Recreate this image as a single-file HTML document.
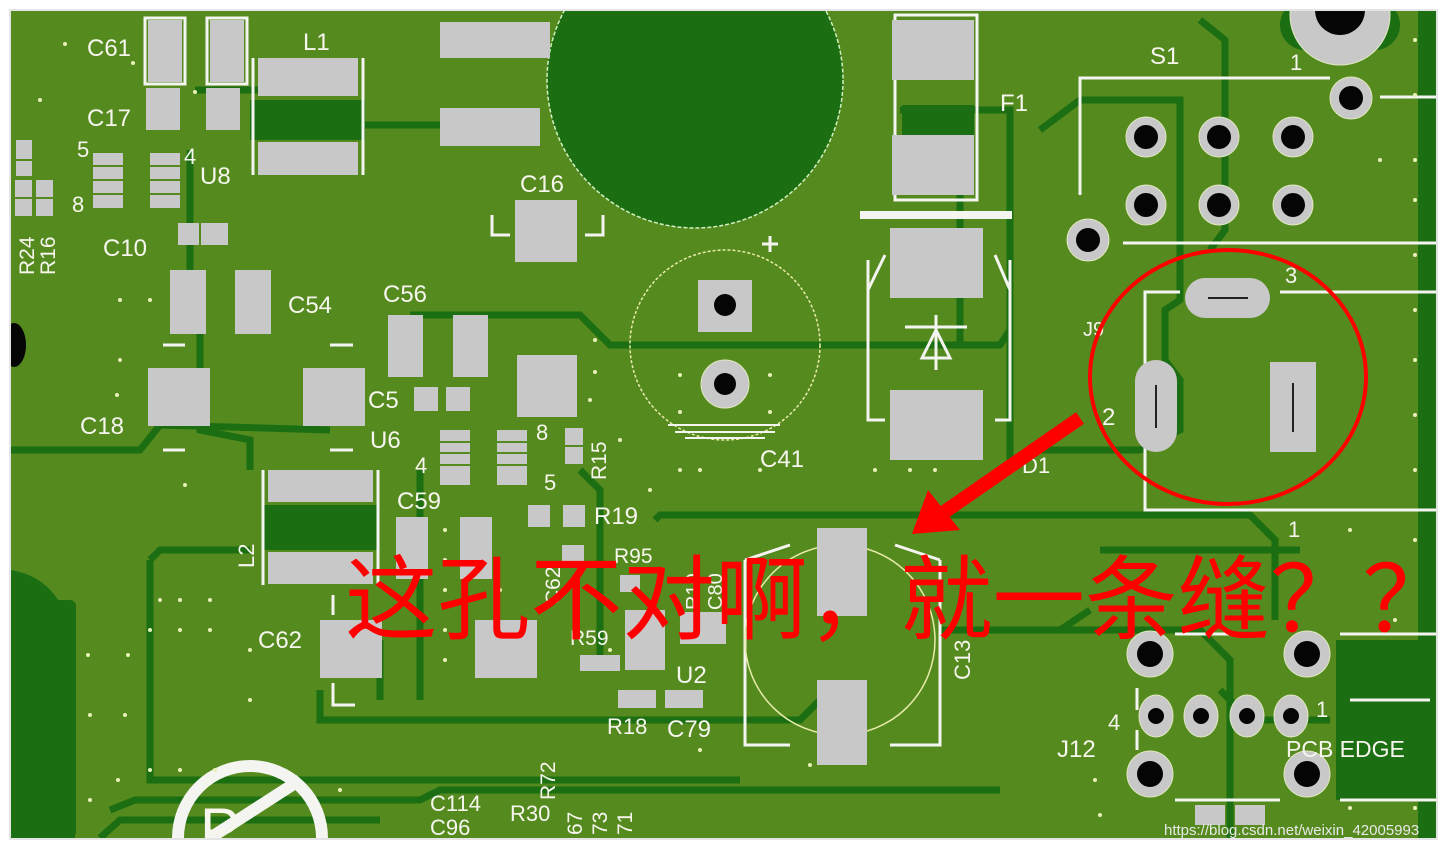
<!DOCTYPE html>
<html><head><meta charset="utf-8"><style>
html,body{margin:0;padding:0;background:#fff;width:1447px;height:849px;overflow:hidden;}
svg{display:block;}
text{font-family:"Liberation Sans","DejaVu Sans",sans-serif;}
</style></head><body>
<svg width="1447" height="849" viewBox="0 0 1447 849" xmlns="http://www.w3.org/2000/svg">
<defs>
<clipPath id="b"><rect x="11" y="11" width="1425" height="827"/></clipPath>
</defs>
<rect width="1447" height="849" fill="#fff"/>
<rect x="9" y="9" width="1429" height="831" fill="#e4e4e4"/>
<g clip-path="url(#b)">
<rect x="11" y="11" width="1425" height="827" fill="#558a1e"/>
<g fill="#1c6e12">
<circle cx="695" cy="80" r="148"/>
<rect x="11" y="600" width="65" height="238" rx="6"/>
<path d="M11 570 Q70 580 75 660 L75 838 L11 838Z"/>
<rect x="1336" y="640" width="100" height="160"/>
<rect x="1418" y="11" width="18" height="827"/>
<rect x="250" y="100" width="115" height="40"/>
<rect x="262" y="505" width="115" height="45"/>
<rect x="902" y="105" width="72" height="30"/>
<rect x="1280" y="0" width="120" height="50" rx="25"/>
</g>
<g fill="none" stroke="#1c6e12" stroke-width="7">
<path d="M11 450 L140 450 L160 425 L330 430"/>
<path d="M190 150 L190 300 L200 330 L200 430 L250 440 L250 470"/>
<path d="M410 315 L580 315 L610 345 L1000 345 L1010 330 L1010 110 L900 110"/>
<path d="M315 110 L340 110 L360 125 L540 125"/>
<path d="M195 90 L330 90"/>
<path d="M1010 110 L1010 460"/>
<path d="M960 115 L960 345"/>
<path d="M655 520 L660 515 L1250 515 L1275 540 L1275 620"/>
<path d="M150 560 L160 550 L250 550"/>
<path d="M150 560 L150 780 L740 780"/>
<path d="M320 690 L320 720 L800 720 L820 700"/>
<path d="M110 810 L135 800 L420 800 L440 790 L1000 790"/>
<path d="M100 838 L120 820 L380 820"/>
<path d="M380 640 L380 700"/>
<path d="M420 470 L420 700"/>
<path d="M580 470 L600 490 L600 660"/>
<path d="M1040 130 L1080 100 L1180 100 L1180 240"/>
<path d="M1180 240 L1180 300 L1165 310 L1165 360 L1180 380 L1180 430 L1140 450 L1040 450"/>
<path d="M1050 630 L1200 630 L1230 660 L1230 838"/>
<path d="M1100 550 L1300 550"/>
<path d="M940 630 L1060 630 L1090 610"/>
<path d="M1220 690 L1250 720 L1330 720"/>
<path d="M1200 20 L1225 40 L1225 230 L1210 250"/>
</g>
<g fill="none" stroke="#f4f4f0" stroke-width="3">
<rect x="145" y="18" width="40" height="66"/>
<rect x="207" y="18" width="40" height="66"/>
<path d="M253 58 L253 175 M363 58 L363 175"/>
<rect x="895" y="15" width="82" height="185"/>
<path d="M868 260 L868 420 L885 420 M1010 260 L1010 420 L995 420 M868 290 L885 255 M1010 290 L995 255"/>
<path d="M1080 195 L1080 78 L1330 78"/>
<path d="M1123 243 L1436 243"/>
<path d="M1145 410 L1145 510 L1436 510"/>
<path d="M1145 380 L1145 292 L1180 292"/>
<path d="M1280 292 L1436 292"/>
<path d="M1380 97 L1436 97"/>
<path d="M1350 700 L1430 700"/>
<path d="M1175 634 L1250 634 M1340 634 L1436 634"/>
<path d="M1175 800 L1280 800 M1340 800 L1436 800"/>
<path d="M1137 688 L1137 710 M1137 730 L1137 750"/>
<path d="M263 470 L263 585 M378 470 L378 585"/>
<path d="M745 560 L745 745 L790 745 M940 560 L940 745 L890 745 M745 560 L790 545 M940 560 L895 545"/>
<path d="M492 215 L492 235 L510 235 M603 215 L603 235 L585 235"/>
<path d="M163 345 L185 345 M163 450 L185 450 M353 345 L330 345 M353 450 L330 450"/>
<path d="M333 683 L333 705 L355 705 M333 595 L333 615"/>
</g>
<line x1="860" y1="215" x2="1012" y2="215" stroke="#f4f4f0" stroke-width="8"/>
<circle cx="725" cy="345" r="95" fill="none" stroke="#e9ecaa" stroke-width="1.5" stroke-dasharray="3 2"/>
<circle cx="695" cy="80" r="148" fill="none" stroke="#d0f0c0" stroke-width="1.5" stroke-dasharray="4 2"/>
<circle cx="840" cy="640" r="95" fill="none" stroke="#e9ecaa" stroke-width="1.5"/>
<path d="M668 425 L780 425 M675 432 L775 432 M685 438 L765 438" stroke="#f4f4f0" stroke-width="2"/>
<circle cx="250" cy="838" r="72" fill="none" stroke="#f4f4f0" stroke-width="12"/>
<line x1="210" y1="838" x2="300" y2="780" stroke="#f4f4f0" stroke-width="12"/>
<g fill="#c8c8c8">
<rect x="148" y="20" width="34" height="62"/>
<rect x="210" y="20" width="34" height="62"/>
<rect x="146" y="88" width="34" height="42"/>
<rect x="206" y="88" width="34" height="42"/>
<rect x="258" y="58" width="100" height="38"/>
<rect x="258" y="142" width="100" height="33"/>
<rect x="440" y="22" width="110" height="36"/>
<rect x="440" y="108" width="100" height="38"/>
<rect x="515" y="200" width="62" height="62"/>
<rect x="892" y="20" width="82" height="60"/>
<rect x="892" y="135" width="82" height="60"/>
<rect x="890" y="228" width="93" height="70"/>
<rect x="890" y="390" width="93" height="70"/>
<rect x="698" y="280" width="54" height="52"/>
<rect x="170" y="270" width="36" height="64"/>
<rect x="235" y="270" width="36" height="64"/>
<rect x="148" y="368" width="62" height="58"/>
<rect x="303" y="368" width="62" height="58"/>
<rect x="388" y="315" width="35" height="62"/>
<rect x="453" y="315" width="35" height="62"/>
<rect x="517" y="355" width="60" height="62"/>
<rect x="414" y="387" width="24" height="24"/>
<rect x="446" y="387" width="24" height="24"/>
<rect x="268" y="470" width="105" height="32"/>
<rect x="268" y="552" width="105" height="32"/>
<rect x="396" y="517" width="32" height="62"/>
<rect x="460" y="517" width="32" height="62"/>
<rect x="320" y="620" width="62" height="58"/>
<rect x="475" y="620" width="62" height="58"/>
<rect x="528" y="505" width="22" height="22"/>
<rect x="563" y="505" width="22" height="22"/>
<rect x="562" y="545" width="22" height="22"/>
<rect x="817" y="528" width="50" height="88"/>
<rect x="817" y="680" width="50" height="85"/>
<rect x="1270" y="362" width="46" height="90"/>
<rect x="16" y="140" width="16" height="36"/>
<rect x="15" y="180" width="17" height="36"/>
<rect x="36" y="180" width="17" height="36"/>
<rect x="178" y="223" width="50" height="22"/>
<rect x="565" y="428" width="18" height="36"/>
<rect x="620" y="575" width="20" height="17"/>
<rect x="680" y="612" width="46" height="32"/>
<rect x="580" y="655" width="40" height="16"/>
<rect x="625" y="610" width="40" height="60"/>
<rect x="618" y="690" width="38" height="18"/>
<rect x="665" y="690" width="38" height="18"/>
<rect x="1195" y="805" width="30" height="20"/>
<rect x="1235" y="805" width="30" height="20"/>
<rect x="440" y="430" width="30" height="55"/>
<rect x="497" y="430" width="30" height="55"/>
<rect x="93" y="153" width="30" height="55"/>
<rect x="150" y="153" width="30" height="55"/>
</g>
<g stroke="#558a1e" stroke-width="2">
<path d="M440 442 H470 M440 453 H470 M440 465 H470 M497 442 H527 M497 453 H527 M497 465 H527"/>
<path d="M93 166 H123 M93 180 H123 M93 194 H123 M150 166 H180 M150 180 H180 M150 194 H180"/>
<path d="M15 160 H32 M15 198 H53 M34 180 V216 M200 223 V245 M565 446 H583"/>
</g>
<rect x="1185" y="278" width="85" height="40" rx="20" fill="#c8c8c8"/>
<rect x="1135" y="360" width="42" height="92" rx="21" fill="#c8c8c8"/>
<path d="M1208 298 H1248 M1156 385 V428 M1293 383 V432" stroke="#222" stroke-width="2"/>
<g fill="#c8c8c8" stroke="#e0e8c0" stroke-width="1">
<circle cx="1146" cy="137" r="20"/><circle cx="1219" cy="137" r="20"/><circle cx="1293" cy="137" r="20"/>
<circle cx="1146" cy="205" r="20"/><circle cx="1219" cy="205" r="20"/><circle cx="1293" cy="205" r="20"/>
<circle cx="1088" cy="240" r="21"/><circle cx="1351" cy="98" r="21"/>
<circle cx="725" cy="384" r="24"/>
<circle cx="1150" cy="654" r="23"/><circle cx="1307" cy="654" r="23"/>
<circle cx="1150" cy="774" r="23"/><circle cx="1307" cy="774" r="23"/>
<ellipse cx="1156" cy="716" rx="17" ry="21"/><ellipse cx="1201" cy="716" rx="17" ry="21"/>
<ellipse cx="1247" cy="716" rx="17" ry="21"/><ellipse cx="1291" cy="716" rx="17" ry="21"/>
<circle cx="1340" cy="15" r="50"/>
</g>
<g fill="#050505">
<circle cx="1146" cy="137" r="12"/><circle cx="1219" cy="137" r="12"/><circle cx="1293" cy="137" r="12"/>
<circle cx="1146" cy="205" r="12"/><circle cx="1219" cy="205" r="12"/><circle cx="1293" cy="205" r="12"/>
<circle cx="1088" cy="240" r="12"/><circle cx="1351" cy="98" r="12"/>
<circle cx="725" cy="305" r="11"/><circle cx="725" cy="384" r="11"/>
<circle cx="1150" cy="654" r="13"/><circle cx="1307" cy="654" r="13"/>
<circle cx="1150" cy="774" r="13"/><circle cx="1307" cy="774" r="13"/>
<circle cx="1156" cy="716" r="8"/><circle cx="1201" cy="716" r="8"/>
<circle cx="1247" cy="716" r="8"/><circle cx="1291" cy="716" r="8"/>
<circle cx="1340" cy="10" r="25"/>
<ellipse cx="14" cy="345" rx="12" ry="22"/>
</g>
<g stroke="#f4f4f0" stroke-width="3" fill="none">
<path d="M905 327 H967 M936 315 V370 M922 358 L936 330 L950 358 Z"/>
<path d="M770 236 V252 M762 244 H778"/>
</g>
<g fill="#e8efb8">
<circle cx="65" cy="44" r="2"/><circle cx="40" cy="100" r="2"/><circle cx="133" cy="63" r="2"/><circle cx="195" cy="92" r="2"/>
<circle cx="120" cy="300" r="2"/><circle cx="150" cy="300" r="2"/><circle cx="120" cy="360" r="2"/><circle cx="117" cy="395" r="2"/>
<circle cx="185" cy="485" r="2"/><circle cx="160" cy="600" r="2"/><circle cx="180" cy="600" r="2"/><circle cx="210" cy="600" r="2"/>
<circle cx="150" cy="630" r="2"/><circle cx="180" cy="630" r="2"/><circle cx="210" cy="630" r="2"/><circle cx="88" cy="655" r="2"/>
<circle cx="128" cy="655" r="2"/><circle cx="90" cy="715" r="2"/><circle cx="125" cy="715" r="2"/><circle cx="150" cy="770" r="2"/>
<circle cx="180" cy="770" r="2"/><circle cx="215" cy="770" r="2"/><circle cx="118" cy="780" r="2"/><circle cx="90" cy="800" r="2"/>
<circle cx="445" cy="530" r="2"/><circle cx="445" cy="560" r="2"/><circle cx="445" cy="590" r="2"/><circle cx="445" cy="630" r="2"/>
<circle cx="445" cy="660" r="2"/><circle cx="500" cy="590" r="2"/><circle cx="610" cy="650" r="2"/><circle cx="700" cy="750" r="2"/>
<circle cx="810" cy="765" r="2"/><circle cx="680" cy="470" r="2"/><circle cx="700" cy="470" r="2"/><circle cx="760" cy="470" r="2"/>
<circle cx="875" cy="470" r="2"/><circle cx="910" cy="470" r="2"/><circle cx="935" cy="470" r="2"/><circle cx="1380" cy="160" r="2"/>
<circle cx="1415" cy="160" r="2"/><circle cx="1415" cy="200" r="2"/><circle cx="1415" cy="255" r="2"/><circle cx="1415" cy="310" r="2"/>
<circle cx="1415" cy="360" r="2"/><circle cx="1415" cy="415" r="2"/><circle cx="1415" cy="470" r="2"/><circle cx="1350" cy="530" r="2"/>
<circle cx="1415" cy="540" r="2"/><circle cx="1395" cy="620" r="2"/><circle cx="1350" cy="808" r="2"/><circle cx="1415" cy="808" r="2"/>
<circle cx="1095" cy="780" r="2"/><circle cx="1100" cy="815" r="2"/><circle cx="1415" cy="40" r="2"/><circle cx="1415" cy="95" r="2"/>
<circle cx="595" cy="340" r="2"/><circle cx="595" cy="372" r="2"/><circle cx="590" cy="400" r="2"/><circle cx="620" cy="440" r="2"/>
<circle cx="650" cy="490" r="2"/><circle cx="250" cy="650" r="2"/><circle cx="250" cy="700" r="2"/><circle cx="340" cy="790" r="2"/>
<circle cx="680" cy="375" r="2"/><circle cx="770" cy="375" r="2"/><circle cx="680" cy="412" r="2"/><circle cx="770" cy="412" r="2"/>
</g>
<g fill="#f6f6ee" font-size="24">
<text x="87" y="56">C61</text>
<text x="87" y="126">C17</text>
<text x="303" y="50">L1</text>
<text x="77" y="157" font-size="22">5</text>
<text x="184" y="164" font-size="22">4</text>
<text x="200" y="184">U8</text>
<text x="72" y="212" font-size="22">8</text>
<text x="103" y="256">C10</text>
<text x="288" y="313">C54</text>
<text x="383" y="302">C56</text>
<text x="520" y="192">C16</text>
<text x="80" y="434">C18</text>
<text x="368" y="408">C5</text>
<text x="370" y="448">U6</text>
<text x="415" y="473" font-size="22">4</text>
<text x="536" y="440" font-size="22">8</text>
<text x="544" y="490" font-size="22">5</text>
<text x="397" y="509">C59</text>
<text x="594" y="524">R19</text>
<text x="614" y="563" font-size="21">R95</text>
<text x="570" y="645" font-size="21">R59</text>
<text x="676" y="683">U2</text>
<text x="607" y="734" font-size="22">R18</text>
<text x="667" y="737">C79</text>
<text x="258" y="648">C62</text>
<text x="760" y="467">C41</text>
<text x="1000" y="111">F1</text>
<text x="1150" y="64">S1</text>
<text x="1290" y="70" font-size="22">1</text>
<text x="1285" y="283" font-size="22">3</text>
<text x="1083" y="336" font-size="20">J9</text>
<text x="1102" y="425" font-size="24">2</text>
<text x="1288" y="537" font-size="22">1</text>
<text x="1316" y="717" font-size="22">1</text>
<text x="1108" y="730" font-size="22">4</text>
<text x="1057" y="757">J12</text>
<text x="1286" y="757" font-size="23">PCB EDGE</text>
<text x="430" y="811" font-size="22">C114</text>
<text x="430" y="835" font-size="22">C96</text>
<text x="510" y="821" font-size="22">R30</text>
<text x="1022" y="473" font-size="22">D1</text>
<text x="200" y="850" font-size="60">P</text>
<text transform="translate(34,275) rotate(-90)" font-size="21">R24</text>
<text transform="translate(55,275) rotate(-90)" font-size="21">R16</text>
<text transform="translate(606,480) rotate(-90)" font-size="21">R15</text>
<text transform="translate(254,568) rotate(-90)" font-size="22">L2</text>
<text transform="translate(970,680) rotate(-90)" font-size="22">C13</text>
<text transform="translate(555,800) rotate(-90)" font-size="21">R72</text>
<text transform="translate(582,835) rotate(-90)" font-size="21">67</text>
<text transform="translate(607,835) rotate(-90)" font-size="21">73</text>
<text transform="translate(632,835) rotate(-90)" font-size="21">71</text>
<text transform="translate(560,605) rotate(-90)" font-size="21">C62</text>
<text transform="translate(700,610) rotate(-90)" font-size="20">R10</text>
<text transform="translate(722,610) rotate(-90)" font-size="20">C80</text>
</g>
<text x="1164" y="835" font-size="15" fill="#e8e8e8">https://blog.csdn.net/weixin_42005993</text>
</g>
<ellipse cx="1228" cy="377" rx="138" ry="127" fill="none" stroke="#ff0000" stroke-width="4"/>
<line x1="1080" y1="418" x2="940" y2="515" stroke="#ff0000" stroke-width="14"/>
<polygon points="912,534 928,490 960,530" fill="#ff0000"/>
<text x="345" y="632" font-size="92" fill="#ff0000" font-family="'Noto Sans CJK SC','WenQuanYi Zen Hei',sans-serif" textLength="1110" lengthAdjust="spacingAndGlyphs">这孔不对啊，就一条缝？？</text>
</svg>
</body></html>
